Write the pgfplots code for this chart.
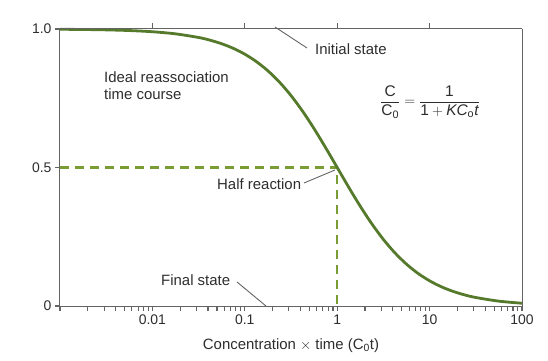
\documentclass[border=0pt]{standalone}
\usepackage{amsmath}
\usepackage{fontspec}
\setmainfont{Liberation Sans}
\usepackage{pgfplots}
\pgfplotsset{compat=1.18}
\definecolor{curvegreen}{RGB}{86,122,44}
\definecolor{dashgreen}{RGB}{122,156,52}
\definecolor{axisgray}{RGB}{100,100,100}
\definecolor{txt}{RGB}{45,45,45}
\begin{document}
\begin{tikzpicture}
\path[use as bounding box] (-60bp,-55bp) rectangle (488bp,306bp);
\begin{axis}[
  at={(0,0)}, anchor=south west,
  scale only axis, width=462bp, height=277bp,
  xmode=log, xmin=0.001, xmax=100, ymin=0, ymax=1,
  axis x line*=bottom, axis y line*=left,
  axis line style={draw=axisgray, line width=1bp, -},
  xtick={0.001,0.01,0.1,1,10,100},
  xticklabels={,0.01,0.1,1,10,100},
  minor xtick={0.002,0.003,0.004,0.005,0.006,0.007,0.008,0.009,
    0.02,0.03,0.04,0.05,0.06,0.07,0.08,0.09,
    0.2,0.3,0.4,0.5,0.6,0.7,0.8,0.9,
    2,3,4,5,6,7,8,9,20,30,40,50,60,70,80,90},
  ytick={0,0.5,1}, yticklabels={0,0.5,1.0},
  tick align=outside,
  major tick length=5bp, minor tick length=5bp,
  every tick/.style={draw=axisgray, line width=1.1bp},
  /pgf/number format/assume math mode=true,
  ticklabel style={font=\fontsize{14}{16}\selectfont, text=txt},
  xlabel={Concentration $\times$ time (C\textsubscript{0}t)},
  xlabel style={at={(axis description cs:0.5,0)}, anchor=base, yshift=-43bp, font=\fontsize{15}{17}\selectfont, text=txt},
  clip=false,
]
\addplot[dashgreen, line width=2.5bp, dash pattern=on 9bp off 6bp] coordinates {(0.001,0.5) (1,0.5) (1,0)};
\addplot[curvegreen, line width=2.8bp, smooth] coordinates {
(0.001,0.999001) (0.0017783,0.998225) (0.0031623,0.996847) (0.0056234,0.994408)
(0.01,0.990099) (0.017783,0.982528) (0.031623,0.969347) (0.042170,0.959536)
(0.056234,0.946759) (0.074989,0.930242) (0.1,0.909091) (0.13335,0.882340)
(0.17783,0.849018) (0.23714,0.808316) (0.31623,0.759747) (0.42170,0.703384)
(0.56234,0.640065) (0.74989,0.571464) (1,0.5) (1.33352,0.428537)
(1.77828,0.359935) (2.37137,0.296616) (3.16228,0.240253) (4.21697,0.191684)
(5.62341,0.150981) (7.49894,0.117662) (10,0.090909) (13.3352,0.069758)
(17.7828,0.053241) (23.7137,0.040463) (31.6228,0.030653) (56.2341,0.017473)
(100,0.009901)};
\end{axis}
\begin{axis}[
  at={(0,0)}, anchor=south west,
  scale only axis, width=462bp, height=277bp,
  xmode=log, xmin=0.001, xmax=100, ymin=0, ymax=1,
  axis x line*=top, axis y line*=right,
  axis line style={draw=axisgray, line width=1bp, -},
  xtick={0.01,0.1,1,10}, xticklabels={}, minor xtick={},
  ytick=\empty,
  tick align=outside, major tick length=6bp, minor tick length=0pt,
  every tick/.style={draw=axisgray, line width=1.1bp},
  every minor tick/.style={draw=none},
]
\addplot[draw=none] coordinates {(0.01,0.5)};
\end{axis}
\begin{scope}[font=\fontsize{15}{18}\selectfont, text=txt]
\node[anchor=base west, inner sep=0pt] at (255bp,251bp) {Initial state};
\draw[axisgray, line width=0.9bp] (215bp,279bp) -- (247bp,258bp);
\node[anchor=base west, inner sep=0pt] at (44bp,223bp) {Ideal reassociation};
\node[anchor=base west, inner sep=0pt] at (44bp,206bp) {time course};
\node[anchor=base west, inner sep=0pt] at (157bp,116bp) {Half reaction};
\draw[axisgray, line width=0.9bp] (244bp,123bp) -- (275bp,136bp);
\node[anchor=base west, inner sep=0pt] at (101bp,21bp) {Final state};
\draw[axisgray, line width=0.9bp] (177bp,24bp) -- (206bp,0bp);
\node[inner sep=0pt] at (370bp,204bp) {\fontsize{15.5}{18}\selectfont $\dfrac{\text{C}}{\text{C}_{\text{0}}} = \dfrac{\text{1}}{\text{1} + \textit{KC}_{\text{o}}\textit{t}}$};
\end{scope}
\end{tikzpicture}
\end{document}
